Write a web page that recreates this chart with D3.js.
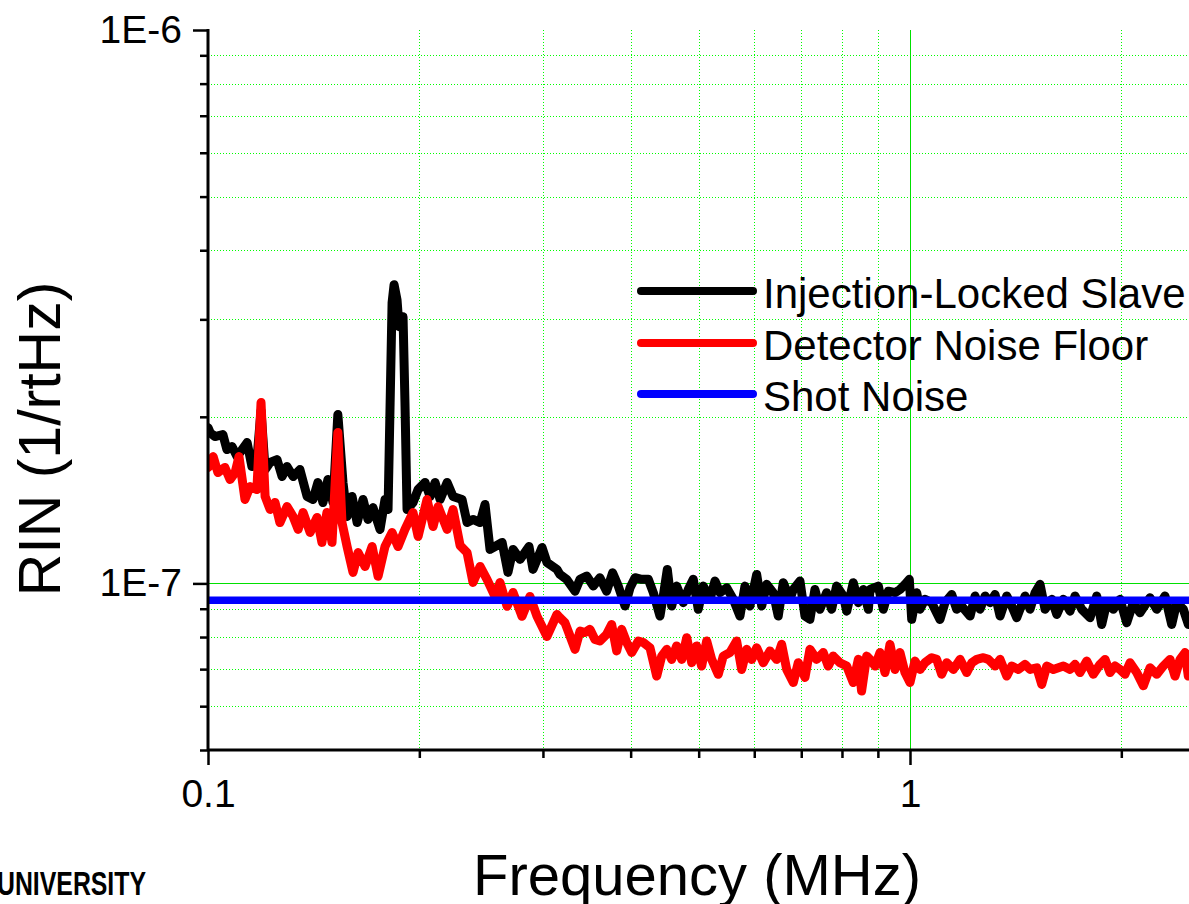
<!DOCTYPE html>
<html>
<head>
<meta charset="utf-8">
<script src="https://cdn.jsdelivr.net/npm/d3@7"></script>
<style>
  body { margin: 0; background: #fff; }
  svg { display: block; font-family: "Liberation Sans", Arial, sans-serif; }
</style>
</head>
<body>
<div id="chart"></div>
<script>
// RIN values are given in units of 1e-7 (1/rtHz), frequency in MHz
var UNIT = 1e-7;

var slaveTrace = [
  [0.1000, 1.912], [0.1007, 1.873], [0.1023, 1.842], [0.1050, 1.858], [0.1064, 1.745],
  [0.1082, 1.767], [0.1100, 1.695], [0.1137, 1.797], [0.1155, 1.626], [0.1174, 1.674],
  [0.1190, 2.050], [0.1206, 1.606], [0.1226, 1.654], [0.1254, 1.674], [0.1275, 1.560],
  [0.1296, 1.626], [0.1322, 1.560], [0.1352, 1.606], [0.1384, 1.436], [0.1411, 1.418],
  [0.1434, 1.522], [0.1458, 1.400], [0.1482, 1.541], [0.1507, 1.400], [0.1531, 2.019],
  [0.1557, 1.522], [0.1578, 1.321], [0.1604, 1.436], [0.1631, 1.288], [0.1663, 1.418],
  [0.1690, 1.305], [0.1718, 1.371], [0.1758, 1.252], [0.1787, 1.418], [0.1805, 1.360],
  [0.1829, 3.215], [0.1841, 3.465], [0.1859, 3.255], [0.1871, 2.910], [0.1896, 3.033],
  [0.1908, 2.122], [0.1921, 1.360], [0.1959, 1.400], [0.1992, 1.478], [0.2038, 1.522],
  [0.2072, 1.436], [0.2106, 1.522], [0.2141, 1.418], [0.2191, 1.522], [0.2234, 1.436],
  [0.2301, 1.418], [0.2339, 1.288], [0.2385, 1.305], [0.2441, 1.288], [0.2481, 1.389],
  [0.2522, 1.152], [0.2564, 1.166], [0.2624, 1.186], [0.2675, 1.047], [0.2720, 1.152],
  [0.2783, 1.105], [0.2866, 1.166], [0.2904, 1.060], [0.2991, 1.161], [0.3040, 1.091],
  [0.3141, 1.060], [0.3172, 1.038], [0.3243, 1.017], [0.3333, 0.968], [0.3388, 1.017],
  [0.3463, 1.031], [0.3539, 0.989], [0.3616, 1.024], [0.3697, 0.968], [0.3770, 1.045],
  [0.3841, 0.989], [0.3927, 0.910], [0.3992, 0.982], [0.4058, 1.024], [0.4148, 1.017],
  [0.4239, 1.017], [0.4309, 0.962], [0.4404, 0.873], [0.4452, 0.949], [0.4511, 1.060],
  [0.4576, 0.910], [0.4652, 0.989], [0.4754, 0.923], [0.4832, 0.975], [0.4912, 1.017],
  [0.4993, 0.898], [0.5076, 0.989], [0.5189, 0.936], [0.5275, 1.010], [0.5362, 0.962],
  [0.5481, 0.982], [0.5601, 0.936], [0.5725, 0.873], [0.5820, 0.989], [0.5916, 0.910],
  [0.6048, 1.038], [0.6148, 0.910], [0.6249, 0.996], [0.6386, 0.962], [0.6491, 0.873],
  [0.6599, 1.003], [0.6745, 0.936], [0.6819, 0.975], [0.6971, 1.010], [0.7086, 0.873],
  [0.7202, 0.861], [0.7321, 0.975], [0.7441, 0.898], [0.7607, 0.962], [0.7733, 0.898],
  [0.7861, 0.989], [0.8036, 0.949], [0.8126, 0.891], [0.8302, 1.003], [0.8441, 0.923],
  [0.8580, 0.975], [0.8723, 0.898], [0.8772, 0.975], [0.9013, 0.989], [0.9162, 0.898],
  [0.9313, 0.968], [0.9520, 0.962], [0.9677, 0.975], [0.9837, 0.996], [0.9977, 1.017],
  [1.0056, 0.861], [1.0222, 0.962], [1.0334, 0.898], [1.0504, 0.936], [1.0737, 0.923],
  [1.1033, 0.861], [1.1216, 0.923], [1.1465, 0.955], [1.1655, 0.898], [1.1848, 0.910],
  [1.2178, 0.873], [1.2379, 0.949], [1.2584, 0.898], [1.2792, 0.949], [1.3003, 0.923],
  [1.3218, 0.955], [1.3437, 0.873], [1.3735, 0.949], [1.3962, 0.910], [1.4193, 0.867],
  [1.4585, 0.949], [1.4826, 0.898], [1.5071, 0.962], [1.5320, 0.996], [1.5574, 0.898],
  [1.5919, 0.936], [1.6183, 0.879], [1.6537, 0.936], [1.6904, 0.891], [1.7183, 0.949],
  [1.7564, 0.898], [1.8049, 0.867], [1.8450, 0.949], [1.8755, 0.843], [1.9066, 0.923],
  [1.9483, 0.898], [1.9914, 0.936], [2.0355, 0.849], [2.0801, 0.923], [2.1264, 0.885],
  [2.1973, 0.942], [2.2461, 0.898], [2.3082, 0.949], [2.3594, 0.843], [2.3985, 0.923],
  [2.4511, 0.898], [2.4915, 0.843]
];

var detectorTrace = [
  [0.1000, 1.620], [0.1003, 1.626], [0.1017, 1.695], [0.1033, 1.586], [0.1057, 1.620],
  [0.1075, 1.541], [0.1093, 1.586], [0.1107, 1.695], [0.1129, 1.418], [0.1148, 1.496],
  [0.1174, 1.478], [0.1190, 2.122], [0.1206, 1.436], [0.1226, 1.360], [0.1246, 1.400],
  [0.1266, 1.288], [0.1296, 1.377], [0.1322, 1.321], [0.1344, 1.252], [0.1366, 1.343],
  [0.1398, 1.236], [0.1430, 1.316], [0.1453, 1.186], [0.1477, 1.343], [0.1502, 1.186],
  [0.1531, 1.873], [0.1552, 1.288], [0.1578, 1.166], [0.1609, 1.047], [0.1636, 1.137],
  [0.1674, 1.073], [0.1713, 1.166], [0.1747, 1.030], [0.1787, 1.166], [0.1829, 1.236],
  [0.1865, 1.166], [0.1908, 1.252], [0.1959, 1.343], [0.1992, 1.216], [0.2051, 1.418],
  [0.2092, 1.267], [0.2127, 1.377], [0.2191, 1.252], [0.2234, 1.360], [0.2286, 1.171],
  [0.2339, 1.137], [0.2385, 1.004], [0.2441, 1.073], [0.2497, 1.017], [0.2564, 0.947],
  [0.2606, 1.004], [0.2667, 0.909], [0.2720, 0.963], [0.2801, 0.872], [0.2875, 0.947],
  [0.2942, 0.872], [0.3040, 0.802], [0.3141, 0.879], [0.3172, 0.867], [0.3225, 0.849],
  [0.3279, 0.803], [0.3333, 0.760], [0.3388, 0.820], [0.3444, 0.815], [0.3500, 0.826],
  [0.3558, 0.792], [0.3616, 0.787], [0.3697, 0.809], [0.3758, 0.843], [0.3821, 0.755],
  [0.3884, 0.826], [0.3949, 0.782], [0.4014, 0.750], [0.4102, 0.787], [0.4170, 0.782],
  [0.4262, 0.765], [0.4357, 0.680], [0.4429, 0.739], [0.4503, 0.760], [0.4576, 0.729],
  [0.4652, 0.771], [0.4730, 0.729], [0.4808, 0.798], [0.4887, 0.719], [0.4967, 0.771],
  [0.5049, 0.709], [0.5133, 0.787], [0.5218, 0.729], [0.5332, 0.685], [0.5420, 0.739],
  [0.5540, 0.750], [0.5663, 0.787], [0.5757, 0.699], [0.5853, 0.760], [0.5950, 0.729],
  [0.6048, 0.765], [0.6180, 0.719], [0.6317, 0.755], [0.6457, 0.729], [0.6564, 0.776],
  [0.6673, 0.699], [0.6819, 0.662], [0.6932, 0.719], [0.7086, 0.676], [0.7202, 0.760],
  [0.7362, 0.729], [0.7523, 0.750], [0.7648, 0.709], [0.7774, 0.739], [0.7946, 0.719],
  [0.8126, 0.709], [0.8302, 0.662], [0.8441, 0.729], [0.8532, 0.639], [0.8675, 0.739],
  [0.8772, 0.729], [0.8917, 0.709], [0.9064, 0.750], [0.9214, 0.690], [0.9365, 0.776],
  [0.9520, 0.699], [0.9677, 0.750], [0.9837, 0.690], [1.0000, 0.662], [1.0165, 0.724],
  [1.0334, 0.699], [1.0504, 0.719], [1.0737, 0.734], [1.0914, 0.729], [1.1095, 0.685],
  [1.1279, 0.719], [1.1526, 0.699], [1.1782, 0.729], [1.2047, 0.690], [1.2246, 0.719],
  [1.2450, 0.729], [1.2721, 0.734], [1.2931, 0.729], [1.3218, 0.709], [1.3437, 0.729],
  [1.3735, 0.680], [1.3962, 0.709], [1.4268, 0.699], [1.4585, 0.714], [1.4826, 0.699],
  [1.5155, 0.704], [1.5406, 0.657], [1.5661, 0.709], [1.6003, 0.699], [1.6268, 0.704],
  [1.6537, 0.709], [1.6904, 0.699], [1.7183, 0.714], [1.7466, 0.690], [1.7855, 0.724],
  [1.8246, 0.685], [1.8651, 0.714], [1.8960, 0.729], [1.9273, 0.690], [1.9590, 0.709],
  [1.9914, 0.699], [2.0242, 0.685], [2.0578, 0.719], [2.1035, 0.690], [2.1496, 0.653],
  [2.1973, 0.704], [2.2461, 0.685], [2.2954, 0.709], [2.3463, 0.729], [2.3852, 0.680],
  [2.4248, 0.729], [2.4651, 0.750], [2.4915, 0.680]
];

var shotNoiseLevel = 0.932;

var seriesNames = ["Injection-Locked Slave", "Detector Noise Floor", "Shot Noise"];
var seriesColors = ["#000000", "#ff0000", "#0000ff"];

var xMajorTicks = [0.1, 1];
var xMinorTicks = [0.2, 0.3, 0.4, 0.5, 0.6, 0.7, 0.8, 0.9, 2];
var yMajorTicks = [1e-7, 1e-6];
var yMinorTicks = [5e-8, 6e-8, 7e-8, 8e-8, 9e-8, 2e-7, 3e-7, 4e-7, 5e-7, 6e-7, 7e-7, 8e-7, 9e-7];

var W = 1189, H = 904;
var plotLeft = 208, plotTop = 30, plotBottom = 750;

var xscale = d3.scaleLog().domain([0.1, 2.5]).range([plotLeft, plotLeft + 702 * Math.log10(25)]);
var yscale = d3.scaleLog().domain([5e-8, 1e-6]).range([plotBottom, plotTop]);

var svg = d3.select("#chart").append("svg")
    .attr("width", W)
    .attr("height", H);

svg.append("rect").attr("width", W).attr("height", H).attr("fill", "#fff");

svg.append("clipPath").attr("id", "plotclip")
  .append("rect")
    .attr("x", plotLeft).attr("y", 0)
    .attr("width", W - plotLeft).attr("height", plotBottom);

// grid lines
var grid = svg.append("g");
grid.selectAll(".ygmin").data(yMinorTicks.filter(function(d) { return d > 5e-8; }))
  .enter().append("line")
    .attr("x1", plotLeft).attr("x2", W)
    .attr("y1", function(d) { return Math.round(yscale(d)) + 0.5; })
    .attr("y2", function(d) { return Math.round(yscale(d)) + 0.5; })
    .attr("stroke", "#00ff00").attr("stroke-width", 1).attr("stroke-dasharray", "1,2");
grid.selectAll(".xgmin").data(xMinorTicks)
  .enter().append("line")
    .attr("y1", plotTop).attr("y2", plotBottom)
    .attr("x1", function(d) { return Math.round(xscale(d)) + 0.5; })
    .attr("x2", function(d) { return Math.round(xscale(d)) + 0.5; })
    .attr("stroke", "#00ff00").attr("stroke-width", 1).attr("stroke-dasharray", "1,2");
grid.append("line")
    .attr("x1", plotLeft).attr("x2", W)
    .attr("y1", Math.round(yscale(1e-7)) + 0.5).attr("y2", Math.round(yscale(1e-7)) + 0.5)
    .attr("stroke", "#00e000").attr("stroke-width", 1);
grid.append("line")
    .attr("y1", plotTop).attr("y2", plotBottom)
    .attr("x1", Math.round(xscale(1)) + 0.5).attr("x2", Math.round(xscale(1)) + 0.5)
    .attr("stroke", "#00e000").attr("stroke-width", 1);

// traces
var line = d3.line()
    .x(function(d) { return xscale(d[0]); })
    .y(function(d) { return yscale(d[1] * UNIT); });

var plot = svg.append("g").attr("clip-path", "url(#plotclip)");

plot.append("path").datum(slaveTrace)
    .attr("d", line)
    .attr("fill", "none").attr("stroke", seriesColors[0])
    .attr("stroke-width", 9).attr("stroke-linejoin", "round").attr("stroke-linecap", "round");

plot.append("path").datum(detectorTrace)
    .attr("d", line)
    .attr("fill", "none").attr("stroke", seriesColors[1])
    .attr("stroke-width", 9).attr("stroke-linejoin", "round").attr("stroke-linecap", "round");

plot.append("path").datum([[0.1, shotNoiseLevel], [2.5, shotNoiseLevel]])
    .attr("d", line)
    .attr("fill", "none").attr("stroke", seriesColors[2])
    .attr("stroke-width", 7.5);

// axes
var fontTick = "39px";

var yMajor = svg.append("g").attr("transform", "translate(" + plotLeft + ",0)")
    .call(d3.axisLeft(yscale).tickValues(yMajorTicks).tickSize(15).tickPadding(11)
        .tickFormat(function(d) { return d === 1e-7 ? "1E-7" : "1E-6"; }));
var yMinor = svg.append("g").attr("transform", "translate(" + plotLeft + ",0)")
    .call(d3.axisLeft(yscale).tickValues(yMinorTicks).tickSize(8).tickFormat(""));
var xMajor = svg.append("g").attr("transform", "translate(0," + plotBottom + ")")
    .call(d3.axisBottom(xscale).tickValues(xMajorTicks).tickSize(15).tickPadding(14)
        .tickFormat(function(d) { return d === 1 ? "1" : "0.1"; }));
var xMinor = svg.append("g").attr("transform", "translate(0," + plotBottom + ")")
    .call(d3.axisBottom(xscale).tickValues(xMinorTicks).tickSize(8).tickFormat(""));

[yMajor, yMinor, xMajor, xMinor].forEach(function(g) {
    g.attr("font-family", null).attr("font-size", null);
    g.select(".domain").remove();
    g.selectAll(".tick line").attr("stroke", "#000").attr("stroke-width", 2.5);
    g.selectAll("text").attr("font-size", fontTick).attr("fill", "#000");
});

svg.append("line").attr("x1", plotLeft).attr("x2", plotLeft)
    .attr("y1", plotTop - 1).attr("y2", plotBottom + 1)
    .attr("stroke", "#000").attr("stroke-width", 3);
svg.append("line").attr("x1", plotLeft).attr("x2", W)
    .attr("y1", plotBottom).attr("y2", plotBottom)
    .attr("stroke", "#000").attr("stroke-width", 3);

// axis titles
svg.append("text")
    .attr("x", 697).attr("y", 895)
    .attr("text-anchor", "middle")
    .attr("font-size", "58px")
    .text("Frequency (MHz)");

svg.append("text")
    .attr("transform", "translate(60,439) rotate(-90)")
    .attr("text-anchor", "middle")
    .attr("font-size", "59px")
    .text("RIN (1/rtHz)");

// legend
var legY = [291, 343, 394];
var legend = svg.append("g");
seriesNames.forEach(function(name, i) {
    legend.append("line")
        .attr("x1", 641).attr("x2", 753)
        .attr("y1", legY[i]).attr("y2", legY[i])
        .attr("stroke", seriesColors[i]).attr("stroke-width", 8)
        .attr("stroke-linecap", "round");
    legend.append("text")
        .attr("x", 763).attr("y", legY[i] + 17)
        .attr("font-size", "42px")
        .text(name);
});

// logo fragment at bottom left
svg.append("text")
    .attr("x", -3).attr("y", 895)
    .attr("font-family", "Liberation Sans Narrow, Liberation Sans, sans-serif")
    .attr("font-size", "34px")
    .attr("font-weight", "bold")
    .attr("textLength", 149)
    .attr("lengthAdjust", "spacingAndGlyphs")
    .text("UNIVERSITY");
</script>
</body>
</html>
